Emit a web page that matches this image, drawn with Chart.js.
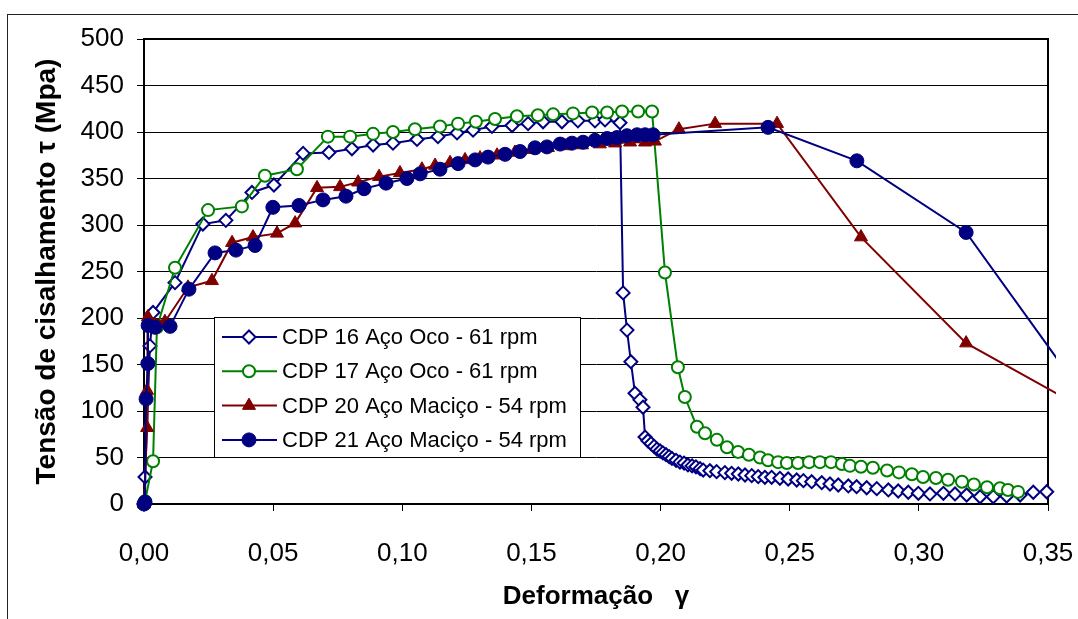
<!DOCTYPE html>
<html>
<head>
<meta charset="utf-8">
<script src="https://cdn.jsdelivr.net/npm/chart.js@4.4.1/dist/chart.umd.min.js"></script>
<style>
html,body{margin:0;padding:0;background:#fff;}
#wrap{width:1078px;height:619px;position:relative;overflow:hidden;}
</style>
</head>
<body>
<div id="wrap"><canvas id="c" width="1078" height="619"></canvas></div>
<script>
// ---------- DATA ----------
const seriesLabels = [
  'CDP 16 Aço Oco - 61 rpm',
  'CDP 17 Aço Oco - 61 rpm',
  'CDP 20 Aço Maciço - 54 rpm',
  'CDP 21 Aço Maciço - 54 rpm'
];
const xTickLabels = ['0,00','0,05','0,10','0,15','0,20','0,25','0,30','0,35'];
const yTickLabels = ['0','50','100','150','200','250','300','350','400','450','500'];
const xTitle = 'Deformação   γ';
const yTitle = 'Tensão de cisalhamento τ (Mpa)';

const cdp16X = [0,0.0004,0.0023,0.0035,0.0120,0.0228,0.0317,0.0418,0.0503,0.0616,
  0.0716,0.0805,0.0887,0.0964,0.1057,0.1138,0.1212,0.1274,0.1347,0.1425,
  0.1487,0.1545,0.1618,0.1680,0.1746,0.1785,0.1843,
  0.1855,0.1870,0.1885,0.1901,0.1920,0.1932,0.1940,
  0.1951,0.1963,0.1975,0.1986,0.1998,0.2009,0.2021,0.2033,0.2044,0.2060,
  0.2075,0.2091,0.2106,0.2122,0.2137,0.2153,
  0.2165,0.2191,0.2217,0.2249,0.2275,0.2301,0.2327,0.2353,0.2378,0.2404,
  0.2430,0.2462,0.2494,0.2527,0.2553,0.2585,0.2624,0.2656,0.2688,0.2727,
  0.2759,0.2798,0.2837,0.2882,0.2920,0.2959,0.2998,0.3043,0.3095,0.3140,
  0.3185,0.3237,0.3288,0.3340,0.3392,0.3443,0.3495];
const cdp16Y = [0,29,170,206,238,301,305,335,343,377,
  378,382,386,388,392,395,399,402,406,407,
  409,411,411,412,412,413,410,
  227,187,153,119,112,104,72,
  68,65,62,59,57,55,53,51,49,47,
  45,44,42,41,40,38,
  36.5,35.8,34.8,33.7,33.0,32.3,31.2,30.5,29.4,28.7,
  28.7,27.6,26.9,25.8,25.1,24.0,22.9,21.5,20.4,19.4,
  18.6,17.5,16.5,15.1,14.0,12.6,11.5,10.8,11.5,10.8,
  9.7,7.8,7.8,8.6,9.7,12.6,13.2];

const cdp17X = [0,0.0004,0.0035,0.0050,0.0120,0.0248,0.0379,0.0468,0.0592,0.0712,
  0.0798,0.0887,0.0964,0.1049,0.1146,0.1216,0.1285,0.1359,0.1444,0.1525,
  0.1584,0.1661,0.1735,0.1793,0.1851,0.1913,0.1967,
  0.2017,0.2067,0.2094,
  0.2141,0.2172,0.2218,0.2257,0.2300,0.2342,0.2385,0.2416,0.2455,0.2489,
  0.2532,0.2575,0.2617,0.2660,0.2702,0.2733,0.2776,0.2822,0.2877,0.2923,
  0.2973,0.3016,0.3066,0.3113,0.3167,0.3213,0.3264,0.3314,0.3345,0.3384];
const cdp17Y = [0,3,46,190,254,316,320,353,360,395,
  395,398,400,403,406,409,411,414,417,418,
  419,420,421,421,422,422,422,
  249,147,115,
  83,76,69,61,56,53,50,47,45,44,
  44,45,45,45,43,41,40,39,36,34,
  32,29,28,26,24,21,18,17,15,13];

const cdp20X = [0,0.0012,0.0012,0.0015,0.0081,0.0170,0.0263,0.0341,0.0422,0.0515,
  0.0585,0.0670,0.0759,0.0829,0.0910,0.0991,0.1076,0.1127,0.1185,0.1243,
  0.1301,0.1367,0.1436,0.1502,0.1564,0.1630,0.1696,0.1765,0.1824,0.1882,
  0.1940,0.1978,0.2071,0.2211,0.2451,0.2776,0.3183,0.3585];
const cdp20Y = [0,82,122,201,196,233,240,281,287,291,
  302,340,341,346,352,356,360,364,367,370,
  372,375,378,381,383,385,386,387,388,389,
  389,390,403,409,409,287,173,111];

const cdp21X = [0,0.0004,0.0008,0.0015,0.0016,0.0043,0.0101,0.0174,0.0275,0.0356,
  0.0430,0.0499,0.0600,0.0693,0.0782,0.0852,0.0937,0.1018,0.1069,0.1146,
  0.1216,0.1282,0.1332,0.1398,0.1456,0.1514,0.1560,0.1611,0.1657,0.1700,
  0.1746,0.1793,0.1831,0.1870,0.1909,0.1940,0.1971,
  0.2416,0.2760,0.3183,0.3585];
const cdp21Y = [0,2,113,151,192,190,191,231,270,273,
  278,319,321,327,331,339,345,350,355,360,
  366,370,373,376,379,383,384,387,388,389,
  391,393,394,396,397,397,397,
  405,369,292,137];

// ---------- BUILD ----------
const pts = (xs, ys) => xs.map((x, i) => ({x: x, y: ys[i]}));
const FONT = "'Liberation Sans', Arial, Helvetica, sans-serif";
const NAVY = '#000080', GREEN = '#008000', RED = '#800000';

const datasets = [
  {label: seriesLabels[0], data: pts(cdp16X, cdp16Y), borderColor: NAVY, backgroundColor: NAVY,
   pointStyle: 'rectRot', pointRadius: 6.5, pointBorderWidth: 2, pointBackgroundColor: '#fff', pointBorderColor: NAVY, order: 4},
  {label: seriesLabels[1], data: pts(cdp17X, cdp17Y), borderColor: GREEN, backgroundColor: GREEN,
   pointStyle: 'circle', pointRadius: 6, pointBorderWidth: 2, pointBackgroundColor: '#fff', pointBorderColor: GREEN, order: 3},
  {label: seriesLabels[2], data: pts(cdp20X, cdp20Y), borderColor: RED, backgroundColor: RED,
   pointStyle: 'triangle', pointRadius: 7.5, pointBorderWidth: 1, pointBackgroundColor: RED, pointBorderColor: RED, order: 2},
  {label: seriesLabels[3], data: pts(cdp21X, cdp21Y), borderColor: NAVY, backgroundColor: NAVY,
   pointStyle: 'circle', pointRadius: 7, pointBorderWidth: 1, pointBackgroundColor: NAVY, pointBorderColor: NAVY, order: 1}
];
datasets.forEach(d => { d.showLine = true; d.borderWidth = 2; d.clip = 8; d.tension = 0; });

const framePlugin = {
  id: 'frame',
  beforeDraw(chart) {
    const ctx = chart.ctx;
    ctx.save();
    ctx.fillStyle = '#fff';
    ctx.fillRect(0, 0, chart.width, chart.height);
    ctx.strokeStyle = '#222';
    ctx.lineWidth = 1;
    ctx.strokeRect(7.5, 14.5, 1300, 1300);
    ctx.restore();
  },
  beforeDatasetsDraw(chart) {
    const {ctx, chartArea: a} = chart;
    ctx.save();
    ctx.strokeStyle = '#000';
    ctx.lineWidth = 2;
    ctx.strokeRect(a.left, a.top, a.right - a.left, a.bottom - a.top);
    ctx.restore();
  }
};

const boxLegend = {
  id: 'boxLegend',
  afterDatasetsDraw(chart) {
    const {ctx, chartArea: a} = chart;
    const L = a.left + 70, T = a.top + 278, W = 366, H = 140;
    ctx.save();
    ctx.fillStyle = '#fff';
    ctx.fillRect(L, T, W, H);
    ctx.strokeStyle = '#000';
    ctx.lineWidth = 1;
    ctx.strokeRect(L + 0.5, T + 0.5, W, H);
    chart.data.datasets.forEach((ds, i) => {
      const y = T + 20 + i * 34.3;
      ctx.strokeStyle = ds.borderColor;
      ctx.lineWidth = 2;
      ctx.beginPath();
      ctx.moveTo(L + 8, y);
      ctx.lineTo(L + 63, y);
      ctx.stroke();
      ctx.fillStyle = ds.pointBackgroundColor;
      ctx.strokeStyle = ds.pointBorderColor;
      ctx.lineWidth = ds.pointBorderWidth;
      Chart.helpers.drawPoint(ctx, {pointStyle: ds.pointStyle, radius: ds.pointRadius, borderWidth: ds.pointBorderWidth, rotation: 0}, L + 35, y);
      ctx.fillStyle = '#000';
      ctx.font = '22px ' + FONT;
      ctx.textBaseline = 'middle';
      ctx.textAlign = 'left';
      ctx.fillText(ds.label, L + 68, y + 1);
    });
    ctx.restore();
  }
};

new Chart(document.getElementById('c'), {
  type: 'scatter',
  data: {datasets: datasets},
  options: {
    responsive: false,
    animation: false,
    devicePixelRatio: 1,
    events: [],
    layout: {padding: {top: 39, right: 30, left: 0, bottom: 0}},
    plugins: {legend: {display: false}, tooltip: {enabled: false}},
    scales: {
      x: {
        type: 'linear', min: 0, max: 0.35,
        ticks: {stepSize: 0.05, autoSkip: false, maxRotation: 0, color: '#000', padding: 27,
          font: {family: FONT, size: 26},
          callback: (v, i) => xTickLabels[i]},
        grid: {drawOnChartArea: false, color: '#000', tickLength: 7, lineWidth: 1},
        border: {display: true, color: '#000', width: 2},
        title: {display: true, text: xTitle, color: '#000', font: {family: FONT, size: 26, weight: 'bold'}, padding: {top: 0, bottom: 7}},
        afterFit: s => { s.height = 115; s.paddingLeft = 0; s.paddingRight = 0; }
      },
      y: {
        type: 'linear', min: 0, max: 500,
        ticks: {stepSize: 50, color: '#000', padding: 13,
          font: {family: FONT, size: 26},
          callback: (v, i) => yTickLabels[i]},
        grid: {color: '#000', tickLength: 7, lineWidth: 1},
        border: {display: true, color: '#000', width: 2},
        title: {display: true, text: yTitle, color: '#000', font: {family: FONT, size: 28, weight: 'bold'}, padding: {top: 30, bottom: 0}},
        afterFit: s => { s.width = 144; s.paddingTop = 0; s.paddingBottom = 0; }
      }
    }
  },
  plugins: [framePlugin, boxLegend]
});
</script>
</body>
</html>
